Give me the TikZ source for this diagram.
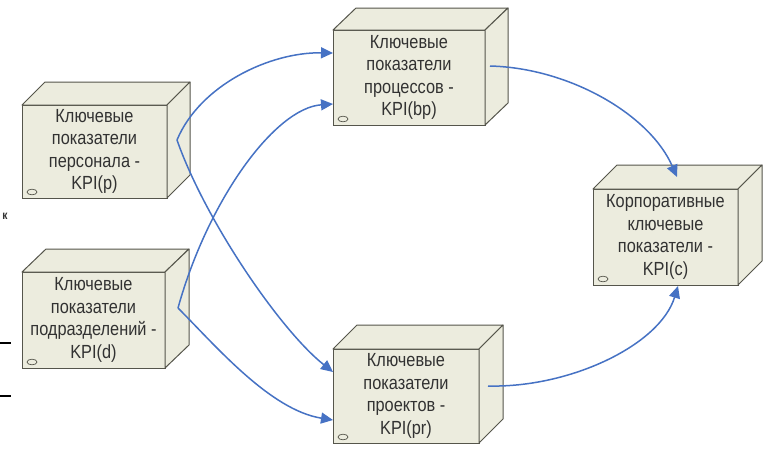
\documentclass[tikz,border=0pt]{standalone}
\usepackage{fontspec}
\setmainfont{Liberation Sans}[FakeStretch=0.86]
\usetikzlibrary{arrows.meta}
\definecolor{boxfill}{RGB}{236,236,222}
\definecolor{boxline}{RGB}{85,85,75}
\definecolor{arrowblue}{RGB}{70,114,196}
\definecolor{txtgray}{RGB}{50,50,50}
\tikzset{
  cubefront/.style={draw=boxline, fill=boxfill, line width=1pt, inner sep=0pt, outer sep=0pt,
    align=center, text=txtgray, font=\fontsize{19}{22.5}\selectfont},
  cubeface/.style={draw=boxline, fill=boxfill, line width=1pt, line join=round},
  conn/.style={draw=arrowblue, line width=1.5pt, -{Triangle[length=12pt,width=11pt]}},
}
\newcommand\kpicube[8]{%
  \node[cubefront, minimum width={#4-#2}, minimum height={#5-#3}] (#1) at ({(#2+#4)/2},{(#3+#5)/2}) {#8};
  \draw[cubeface] (#1.north west) -- ++(#6,-#7) -- ++({#4-#2},0) -- (#1.north east) -- cycle;
  \draw[cubeface] (#1.north east) -- ++(#6,-#7) -- ++(0,{#5-#3}) -- (#1.south east) -- cycle;
  \draw[boxline, line width=0.7pt] ([shift={(10,-6)}]#1.south west) ellipse [x radius=5, y radius=2.8];
}
\begin{document}
\begin{tikzpicture}[x=1pt, y=-1pt]
\useasboundingbox[fill=white] (0,0) rectangle (769,448);

\kpicube{pers}{22}{105}{167}{198}{23}{23}{Ключевые\\показатели\\персонала -\\KPI(p)}
\kpicube{div}{22}{272}{165}{368}{24}{23}{Ключевые\\показатели\\подразделений -\\KPI(d)}
\kpicube{proc}{333}{30}{485}{125}{23}{22}{Ключевые\\показатели\\процессов -\\KPI(bp)}
\kpicube{proj}{333}{349}{479}{443}{24}{24}{Ключевые\\показатели\\проектов -\\KPI(pr)}
\kpicube{corp}{593}{189}{738}{285}{24}{24}{Корпоративные\\ключевые\\показатели -\\KPI(c)}

% connector ends
\coordinate (persout) at (177,140);
\coordinate (divout) at (178,308);
\coordinate (procout) at (490,66);
\coordinate (projout) at (488,386);
\coordinate (procinA) at (333,53);
\coordinate (procinB) at (333,104);
\coordinate (projinA) at (333,372);
\coordinate (projinB) at (333,420);
\coordinate (corpinTop) at (677,177);
\coordinate (corpinBot) at (678,286);

\draw[conn] (persout) .. controls (200,85) and (270,52) .. (procinA);
\draw[conn] (persout) .. controls (205,220) and (280,330) .. (projinA);
\draw[conn] (divout) .. controls (208,200) and (275,108) .. (procinB);
\draw[conn] (divout) .. controls (215,345) and (270,410) .. (projinB);
\draw[conn] (procout) .. controls (570,68) and (650,115) .. (corpinTop);
\draw[conn] (projout) .. controls (570,388) and (660,345) .. (corpinBot);

% cropped slide remnants at the left edge
\node[font=\fontsize{12}{12}\selectfont\bfseries, text=txtgray, inner sep=0pt] (remk) at (5,216) {к};
\draw[black, line width=1.1pt] (0,343) coordinate (ra) -- (11,343) coordinate (rb);
\draw[black, line width=1.1pt] (0,396) coordinate (rc) -- (11,396) coordinate (rd);
\end{tikzpicture}
\end{document}
